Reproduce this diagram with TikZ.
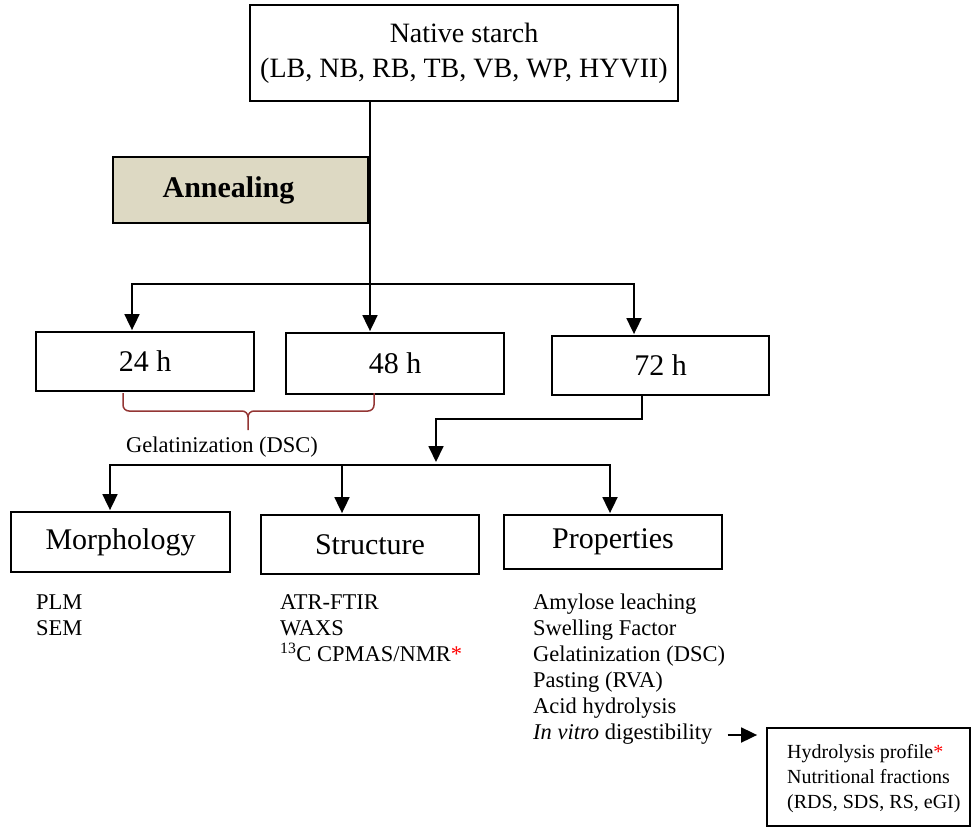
\documentclass[tikz,border=0pt]{standalone}
\usepackage{fontspec}
\setmainfont{Liberation Serif}
\usetikzlibrary{arrows.meta}
\definecolor{beige}{HTML}{DDD9C3}
\definecolor{bracered}{HTML}{943634}
\begin{document}
\begin{tikzpicture}[x=1pt,y=-1pt,
  box/.style={draw=black, line width=1.8pt, inner sep=0pt, font=\fontsize{30}{34}\selectfont},
  conn/.style={line width=1.8pt, line join=miter},
  arr/.style={conn, -{Triangle[length=16pt,width=15pt]}, shorten >=1pt},
  item/.style={anchor=base west, inner sep=0pt, font=\fontsize{22.5}{26}\selectfont},
  small/.style={anchor=base west, inner sep=0pt, font=\fontsize{20}{25}\selectfont}]
\useasboundingbox (0,0) rectangle (974,829);

% boxes
\node[box, minimum width=428pt, minimum height=96pt, align=center, font=\fontsize{28}{35}\selectfont] (native) at (464,53) {Native starch\\(LB, NB, RB, TB, VB, WP, HYVII)};
\node[box, fill=beige, minimum width=255pt, minimum height=66pt, font=\fontsize{30}{34}\selectfont\bfseries] (anneal) at (240.5,190) {\hspace*{-24pt}Annealing};
\node[box, minimum width=218pt, minimum height=59pt] (h24) at (145,361.5) {24 h};
\node[box, minimum width=218pt, minimum height=61pt] (h48) at (395,363.5) {48 h};
\node[box, minimum width=217pt, minimum height=59pt] (h72) at (660.5,365.5) {72 h};
\node[box, minimum width=219pt, minimum height=60pt] (morph) at (120.5,542) {Morphology};
\node[box, minimum width=218pt, minimum height=59pt] (struct) at (370,544.5) {Structure};
\node[box, minimum width=218pt, minimum height=54pt] (prop) at (613,542) {Properties};
\node[draw=black, line width=1.8pt, minimum width=203pt, minimum height=98pt] (hyd) at (868.5,777) {};

% top branching
\coordinate (a24) at (132,284);
\coordinate (a48) at (370,284);
\coordinate (a72) at (634,284);
\draw[arr] (native.south -| a48) -- (h48.north -| a48);
\draw[arr] (a48) -| (h24.north -| a24);
\draw[arr] (a48) -| (h72.north -| a72);

% brace under 24 h and 48 h
\draw[bracered, line width=1.5pt] (123,393) -- (123,405) to[out=-90,in=180] (129,411) -- (242,411) to[out=0,in=90] (248,417) -- (248,430);
\draw[bracered, line width=1.5pt] (374,393) -- (374,405) to[out=-90,in=0] (368,411) -- (254,411) to[out=180,in=90] (248,417);
\node[inner sep=0pt, font=\fontsize{22.5}{26}\selectfont] (gel) at (222,447) {Gelatinization (DSC)};

% from 72 h to the three analyses
\coordinate (b1) at (642,419);
\coordinate (b2) at (436,419);
\coordinate (c1) at (110,465);
\coordinate (c2) at (342,465);
\coordinate (c3) at (610,465);
\draw[arr, shorten >=3pt] (h72.south -| b1) -- (b1) -- (b2) -- (c1 -| b2);
\draw[arr] (c2) -| (morph.north -| c1);
\draw[arr] (c2) -- (struct.north -| c2);
\draw[arr] (c2) -| (prop.north -| c3);

% lists
\foreach \t [count=\i] in {PLM,SEM}
  \node[item] (mL\i) at (36,{609+26*(\i-1)}) {\t};
\foreach \t [count=\i] in {ATR-FTIR,WAXS,{\textsuperscript{13}C CPMAS/NMR{\color{red}*}}}
  \node[item] (sL\i) at (280,{609+26*(\i-1)}) {\t};
\foreach \t [count=\i] in {Amylose leaching,Swelling Factor,Gelatinization (DSC),Pasting (RVA),Acid hydrolysis,{\textit{In vitro} digestibility}}
  \node[item] (pL\i) at (533,{609+26*(\i-1)}) {\t};

% hydrolysis box text
\foreach \t [count=\i] in {{Hydrolysis profile{\color{red}*}},Nutritional fractions,{(RDS, SDS, RS, eGI)}}
  \node[small] (hL\i) at (787,{758+25*(\i-1)}) {\t};

\coordinate (dg) at ([shift={(15pt,4pt)}]pL6.base east);
\draw[arr, shorten >=9pt] (dg) -- (dg -| hyd.west);
\end{tikzpicture}
\end{document}
